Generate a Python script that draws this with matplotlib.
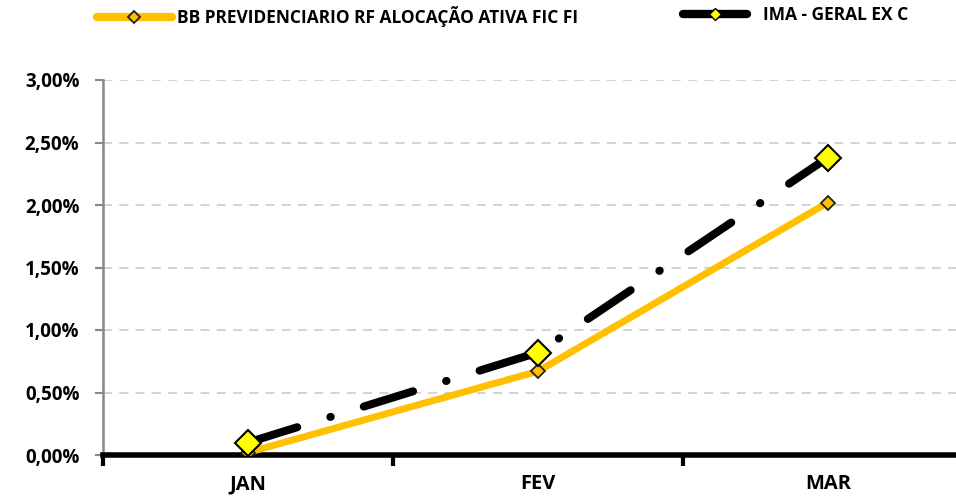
import matplotlib.pyplot as plt
from matplotlib.lines import Line2D
from matplotlib.ticker import FuncFormatter

# dados do gráfico
meses = ['JAN', 'FEV', 'MAR']
bb_prev = [0.02, 0.67, 2.02]
ima_geral = [0.10, 0.82, 2.38]
nome_bb = 'BB PREVIDENCIARIO RF ALOCAÇÃO ATIVA FIC FI'
nome_ima = 'IMA - GERAL EX C'
y_ticks = [0, 0.5, 1.0, 1.5, 2.0, 2.5, 3.0]

plt.rcParams['font.family'] = ['Open Sans', 'DejaVu Sans']

fig = plt.figure(figsize=(9.56, 4.99), dpi=100)
ax = fig.add_axes([103 / 956, 1 - 455 / 499, 870 / 956, 375 / 499])

x = list(range(len(meses)))
ax.plot(x, bb_prev, color='#FFC000', lw=5, solid_capstyle='round',
        marker='D', ms=7, mfc='#FFC000', mec='#222222', mew=1.3, zorder=3)
ax.plot(x, ima_geral, color='black', lw=5.8, dashes=(6.4, 4.3, 0.05, 4.3),
        dash_capstyle='round', marker='D', ms=13, mfc='#FFFF00',
        mec='black', mew=1.5, zorder=4)

ax.set_xlim(-0.5, 2.5)
ax.set_ylim(0, 3.0)
ax.set_yticks(y_ticks)
ax.yaxis.set_major_formatter(FuncFormatter(lambda v, p: f'{v:.2f}%'.replace('.', ',')))
ax.grid(axis='y', color='#d0d0d0', ls=(0, (5, 4)), lw=1.3)
ax.set_axisbelow(True)

ax.set_xticks([-0.5, 0.5, 1.5])
ax.set_xticklabels([])
ax.set_xticks(x, minor=True)
ax.set_xticklabels(meses, minor=True)
ax.tick_params(axis='x', which='major', direction='out', length=8, width=3, color='black')
ax.tick_params(axis='x', which='minor', length=0, pad=14, labelsize=14.5)
ax.tick_params(axis='y', direction='out', length=6, width=1.5, color='#888888',
               labelsize=13.5, pad=11)
for lab in ax.get_xticklabels(minor=True) + ax.get_yticklabels():
    lab.set_fontweight('bold')

for s in ['top', 'right']:
    ax.spines[s].set_visible(False)
ax.spines['left'].set_color('#888888')
ax.spines['left'].set_linewidth(1.8)
ax.spines['bottom'].set_color('black')
ax.spines['bottom'].set_linewidth(4)

# legenda com marcadores menores, uma entrada de cada vez
h_bb = Line2D([], [], color='#FFC000', lw=6, solid_capstyle='round', marker='D',
              ms=6, mfc='#FFC000', mec='#222222', mew=1.3)
h_ima = Line2D([], [], color='black', lw=6, solid_capstyle='round', marker='D',
               ms=6, mfc='#FFFF00', mec='black', mew=1)
leg_kw = dict(loc='upper left', frameon=False, borderpad=0, borderaxespad=0,
              prop={'weight': 'bold', 'size': 12.5})
fig.legend([h_bb], [nome_bb], bbox_to_anchor=(97 / 956, 1 - 6 / 499),
           handlelength=4.3, handletextpad=0.3, **leg_kw)
fig.legend([h_ima], [nome_ima], bbox_to_anchor=(683 / 956, 1 - 6 / 499),
           handlelength=3.7, handletextpad=0.9, **leg_kw)

fig.savefig('out.png', dpi=100)
